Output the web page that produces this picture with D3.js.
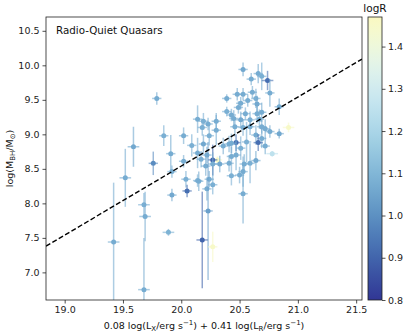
<!DOCTYPE html>
<html>
<head>
<meta charset="utf-8">
<script src="https://cdn.jsdelivr.net/npm/d3@7"></script>
<style>
  body { margin: 0; background: #fff; }
  svg { font-family: "DejaVu Sans", sans-serif; }
</style>
</head>
<body>
<div id="chart"></div>
<script>
// data
const xVals = [19.42,19.52,19.59,19.68,19.69,19.68,19.76,19.85,19.89,19.91,19.92,19.92,20.02,20.09,20.02,20.04,20.05,20.14,20.14,19.79,
  20.14,20.19,20.23,20.30,20.18,20.39,20.48,20.53,20.53,20.66,20.69,20.74,20.60,20.76,20.61,20.64,20.57,20.51,20.65,20.84,
  20.69,20.39,20.49,20.43,20.45,20.51,20.55,20.59,20.65,20.67,20.92,20.72,20.76,20.84,20.64,20.69,20.66,20.72,20.78,20.56,
  20.47,20.46,20.43,20.51,20.47,20.43,20.64,20.59,20.54,20.53,20.50,20.43,20.53,20.24,20.30,20.36,20.41,20.19,20.31,20.27,
  20.22,20.17,20.27,20.21,20.33,20.41,20.15,20.22,20.27,20.24,20.18,20.23,20.27,20.59,20.69,20.53];
const yVals = [7.44,8.37,8.82,7.98,7.81,6.75,8.58,8.98,7.58,8.72,8.46,8.12,8.98,8.84,8.61,8.35,8.18,8.73,8.33,9.52,
  9.22,9.19,9.15,9.19,9.10,9.52,9.58,9.58,9.94,9.88,9.84,9.78,9.80,9.60,9.61,9.52,9.49,9.45,9.44,9.40,
  9.32,9.33,9.39,9.28,9.23,9.21,9.30,9.21,9.30,9.22,9.10,9.08,9.04,9.01,8.99,8.94,8.88,8.83,8.72,8.89,
  8.88,9.11,8.87,8.80,8.70,8.68,8.62,8.58,8.57,8.46,8.41,8.40,8.14,8.98,9.06,8.83,8.86,8.86,8.63,8.63,
  8.70,8.64,8.57,8.54,8.57,8.58,8.32,8.21,8.27,8.35,7.47,7.89,7.37,9.11,9.11,9.10];
const xErr = [0.05,0.05,0.05,0.05,0.05,0.05,0.04,0.04,0.05,0.04,0.04,0.04,0.04,0.04,0.04,0.04,0.04,0.04,0.04,0.04,
  0.04,0.04,0.04,0.04,0.04,0.04,0.04,0.04,0.04,0.04,0.04,0.05,0.04,0.04,0.04,0.04,0.04,0.04,0.04,0.04,
  0.04,0.04,0.04,0.04,0.04,0.04,0.04,0.04,0.04,0.04,0.05,0.04,0.04,0.04,0.04,0.04,0.04,0.04,0.05,0.04,
  0.04,0.04,0.04,0.04,0.04,0.04,0.04,0.04,0.04,0.04,0.04,0.04,0.04,0.04,0.04,0.04,0.04,0.04,0.04,0.04,
  0.04,0.04,0.04,0.04,0.04,0.04,0.04,0.04,0.04,0.04,0.05,0.04,0.04,0.04,0.04,0.04];
const yErr = [0.86,0.42,0.29,0.17,0.36,0.75,0.17,0.15,0.05,0.27,0.09,0.09,0.12,0.16,0.09,0.12,0.09,0.22,0.09,0.09,
  0.20,0.12,0.09,0.12,0.12,0.06,0.09,0.09,0.10,0.14,0.20,0.14,0.09,0.20,0.09,0.14,0.09,0.09,0.12,0.12,
  0.14,0.07,0.09,0.09,0.12,0.12,0.09,0.12,0.14,0.14,0.07,0.14,0.09,0.07,0.14,0.14,0.12,0.12,0.04,0.29,
  0.12,0.14,0.14,0.17,0.22,0.14,0.14,0.29,0.14,0.22,0.12,0.14,0.43,0.14,0.22,0.12,0.12,0.14,0.05,0.22,
  0.12,0.12,0.17,0.14,0.12,0.12,0.14,0.17,0.14,0.12,0.70,1.00,0.22,0.12,0.10,0.12];
const logR = [1.07,1.07,1.06,1.08,1.07,1.07,0.99,1.08,1.09,1.07,1.08,1.06,1.07,1.08,1.07,1.08,0.92,1.07,1.08,1.07,
  1.07,1.08,1.07,1.07,1.08,1.07,1.07,1.07,1.06,1.07,1.08,0.92,1.07,1.07,1.07,1.08,1.07,1.07,1.06,1.07,
  1.07,1.08,1.07,1.07,1.07,1.06,1.07,1.08,1.07,1.07,1.45,1.07,1.07,1.06,1.07,1.07,0.92,1.07,1.25,1.08,
  0.92,1.07,1.07,1.08,1.07,1.07,1.06,1.08,1.07,1.07,1.07,1.08,1.07,1.08,1.07,1.07,1.07,1.06,1.45,0.90,
  1.07,1.08,1.07,1.07,1.06,1.07,1.07,1.07,1.08,1.07,0.90,1.04,1.45,1.07,1.07,1.07];

const xTicks = [19.0, 19.5, 20.0, 20.5, 21.0, 21.5];
const yTicks = [7.0, 7.5, 8.0, 8.5, 9.0, 9.5, 10.0, 10.5];
const cTicks = [0.8, 0.9, 1.0, 1.1, 1.2, 1.3, 1.4];
const fitSlope = 1.0, fitIntercept = -11.46;

const W = 407, H = 335;
const margin = {top: 17, left: 46, right: 45, bottom: 35};
const pw = 362 - margin.left, ph = 300 - margin.top;

const svg = d3.select("#chart").append("svg")
  .attr("width", W).attr("height", H);

const x = d3.scaleLinear().domain([18.84, 21.55]).range([margin.left, margin.left + pw]);
const y = d3.scaleLinear().domain([6.6, 10.7]).range([margin.top + ph, margin.top]);
const cScale = d3.scaleLinear().domain([0.8, 1.47]).range([1, 0.5]);
const col = v => d3.interpolateRdYlBu(cScale(v));

svg.append("clipPath").attr("id", "clip")
  .append("rect").attr("x", margin.left).attr("y", margin.top).attr("width", pw).attr("height", ph);

const data = xVals.map((d, i) => ({x: d, y: yVals[i], xe: xErr[i], ye: yErr[i], c: logR[i]}));

const g = svg.append("g").attr("clip-path", "url(#clip)");

// error bars
const pts = g.selectAll("g.pt").data(data).enter().append("g").attr("class", "pt");
pts.append("line")
  .attr("x1", d => x(d.x)).attr("x2", d => x(d.x))
  .attr("y1", d => y(d.y - d.ye)).attr("y2", d => y(d.y + d.ye))
  .attr("stroke", d => col(d.c)).attr("stroke-width", 1.5).attr("stroke-opacity", 0.6);
pts.append("line")
  .attr("x1", d => x(d.x - d.xe)).attr("x2", d => x(d.x + d.xe))
  .attr("y1", d => y(d.y)).attr("y2", d => y(d.y))
  .attr("stroke", d => col(d.c)).attr("stroke-width", 1.5).attr("stroke-opacity", 0.6);
pts.append("circle")
  .attr("cx", d => x(d.x)).attr("cy", d => y(d.y)).attr("r", 2.5)
  .attr("fill", d => col(d.c));

// fit line
const xd = x.domain();
g.append("line")
  .attr("x1", x(xd[0])).attr("y1", y(fitSlope * xd[0] + fitIntercept))
  .attr("x2", x(xd[1])).attr("y2", y(fitSlope * xd[1] + fitIntercept))
  .attr("stroke", "#000").attr("stroke-width", 1.4).attr("stroke-dasharray", "5,2.4");

// axes
const xAxis = svg.append("g").attr("transform", `translate(0,${margin.top + ph})`)
  .call(d3.axisBottom(x).tickValues(xTicks).tickFormat(d3.format(".1f")).tickSize(3.5).tickPadding(3));
const yAxis = svg.append("g").attr("transform", `translate(${margin.left},0)`)
  .call(d3.axisLeft(y).tickValues(yTicks).tickFormat(d3.format(".1f")).tickSize(3.5).tickPadding(3));
[xAxis, yAxis].forEach(a => {
  a.select(".domain").remove();
  a.selectAll("text").attr("font-size", 9.5).attr("fill", "#222").attr("font-family", "DejaVu Sans");
  a.selectAll("line").attr("stroke", "#222").attr("stroke-width", 0.8);
});

svg.append("rect").attr("x", margin.left).attr("y", margin.top).attr("width", pw).attr("height", ph)
  .attr("fill", "none").attr("stroke", "#222").attr("stroke-width", 0.8);

svg.append("text").attr("x", margin.left + 10).attr("y", 34)
  .attr("font-size", 10.3).attr("fill", "#111").text("Radio-Quiet Quasars");

// x label
const xl = svg.append("text").attr("x", margin.left + pw / 2).attr("y", 329)
  .attr("text-anchor", "middle").attr("font-size", 9.5).attr("fill", "#111");
xl.append("tspan").text("0.08 log(L");
xl.append("tspan").attr("font-size", 7).attr("dy", 2).text("X");
xl.append("tspan").attr("dy", -2).text("/erg s");
xl.append("tspan").attr("font-size", 7).attr("dy", -4).text("−1");
xl.append("tspan").attr("dy", 4).text(") + 0.41 log(L");
xl.append("tspan").attr("font-size", 7).attr("dy", 2).text("R");
xl.append("tspan").attr("dy", -2).text("/erg s");
xl.append("tspan").attr("font-size", 7).attr("dy", -4).text("−1");
xl.append("tspan").attr("dy", 4).text(")");

// y label
const yl = svg.append("text").attr("transform", `translate(13,${margin.top + ph / 2}) rotate(-90)`)
  .attr("text-anchor", "middle").attr("font-size", 9.5).attr("fill", "#111");
yl.append("tspan").text("log(M");
yl.append("tspan").attr("font-size", 7).attr("dy", 2).text("BH");
yl.append("tspan").attr("dy", -2).text("/M");
yl.append("tspan").attr("font-size", 7).attr("dy", 2).text("⊙");
yl.append("tspan").attr("dy", -2).text(")");

// colorbar
const cbX = 368, cbW = 14;
const cb = d3.scaleLinear().domain([0.8, 1.47]).range([margin.top + ph, margin.top]);
const grad = svg.append("defs").append("linearGradient").attr("id", "cbg")
  .attr("x1", 0).attr("y1", 1).attr("x2", 0).attr("y2", 0);
d3.range(0, 1.0001, 0.05).forEach(t => {
  grad.append("stop").attr("offset", t).attr("stop-color", col(0.8 + t * 0.67));
});
svg.append("rect").attr("x", cbX).attr("y", margin.top).attr("width", cbW).attr("height", ph)
  .attr("fill", "url(#cbg)").attr("stroke", "#222").attr("stroke-width", 0.8);
const cAxis = svg.append("g").attr("transform", `translate(${cbX + cbW},0)`)
  .call(d3.axisRight(cb).tickValues(cTicks).tickFormat(d3.format(".1f")).tickSize(3.5).tickPadding(2.5));
cAxis.select(".domain").remove();
cAxis.selectAll("text").attr("font-size", 9.5).attr("fill", "#222").attr("font-family", "DejaVu Sans");
cAxis.selectAll("line").attr("stroke", "#222").attr("stroke-width", 0.8);
svg.append("text").attr("x", cbX + cbW / 2).attr("y", 12).attr("text-anchor", "middle")
  .attr("font-size", 10.5).attr("fill", "#111").text("logR");
</script>
</body>
</html>
